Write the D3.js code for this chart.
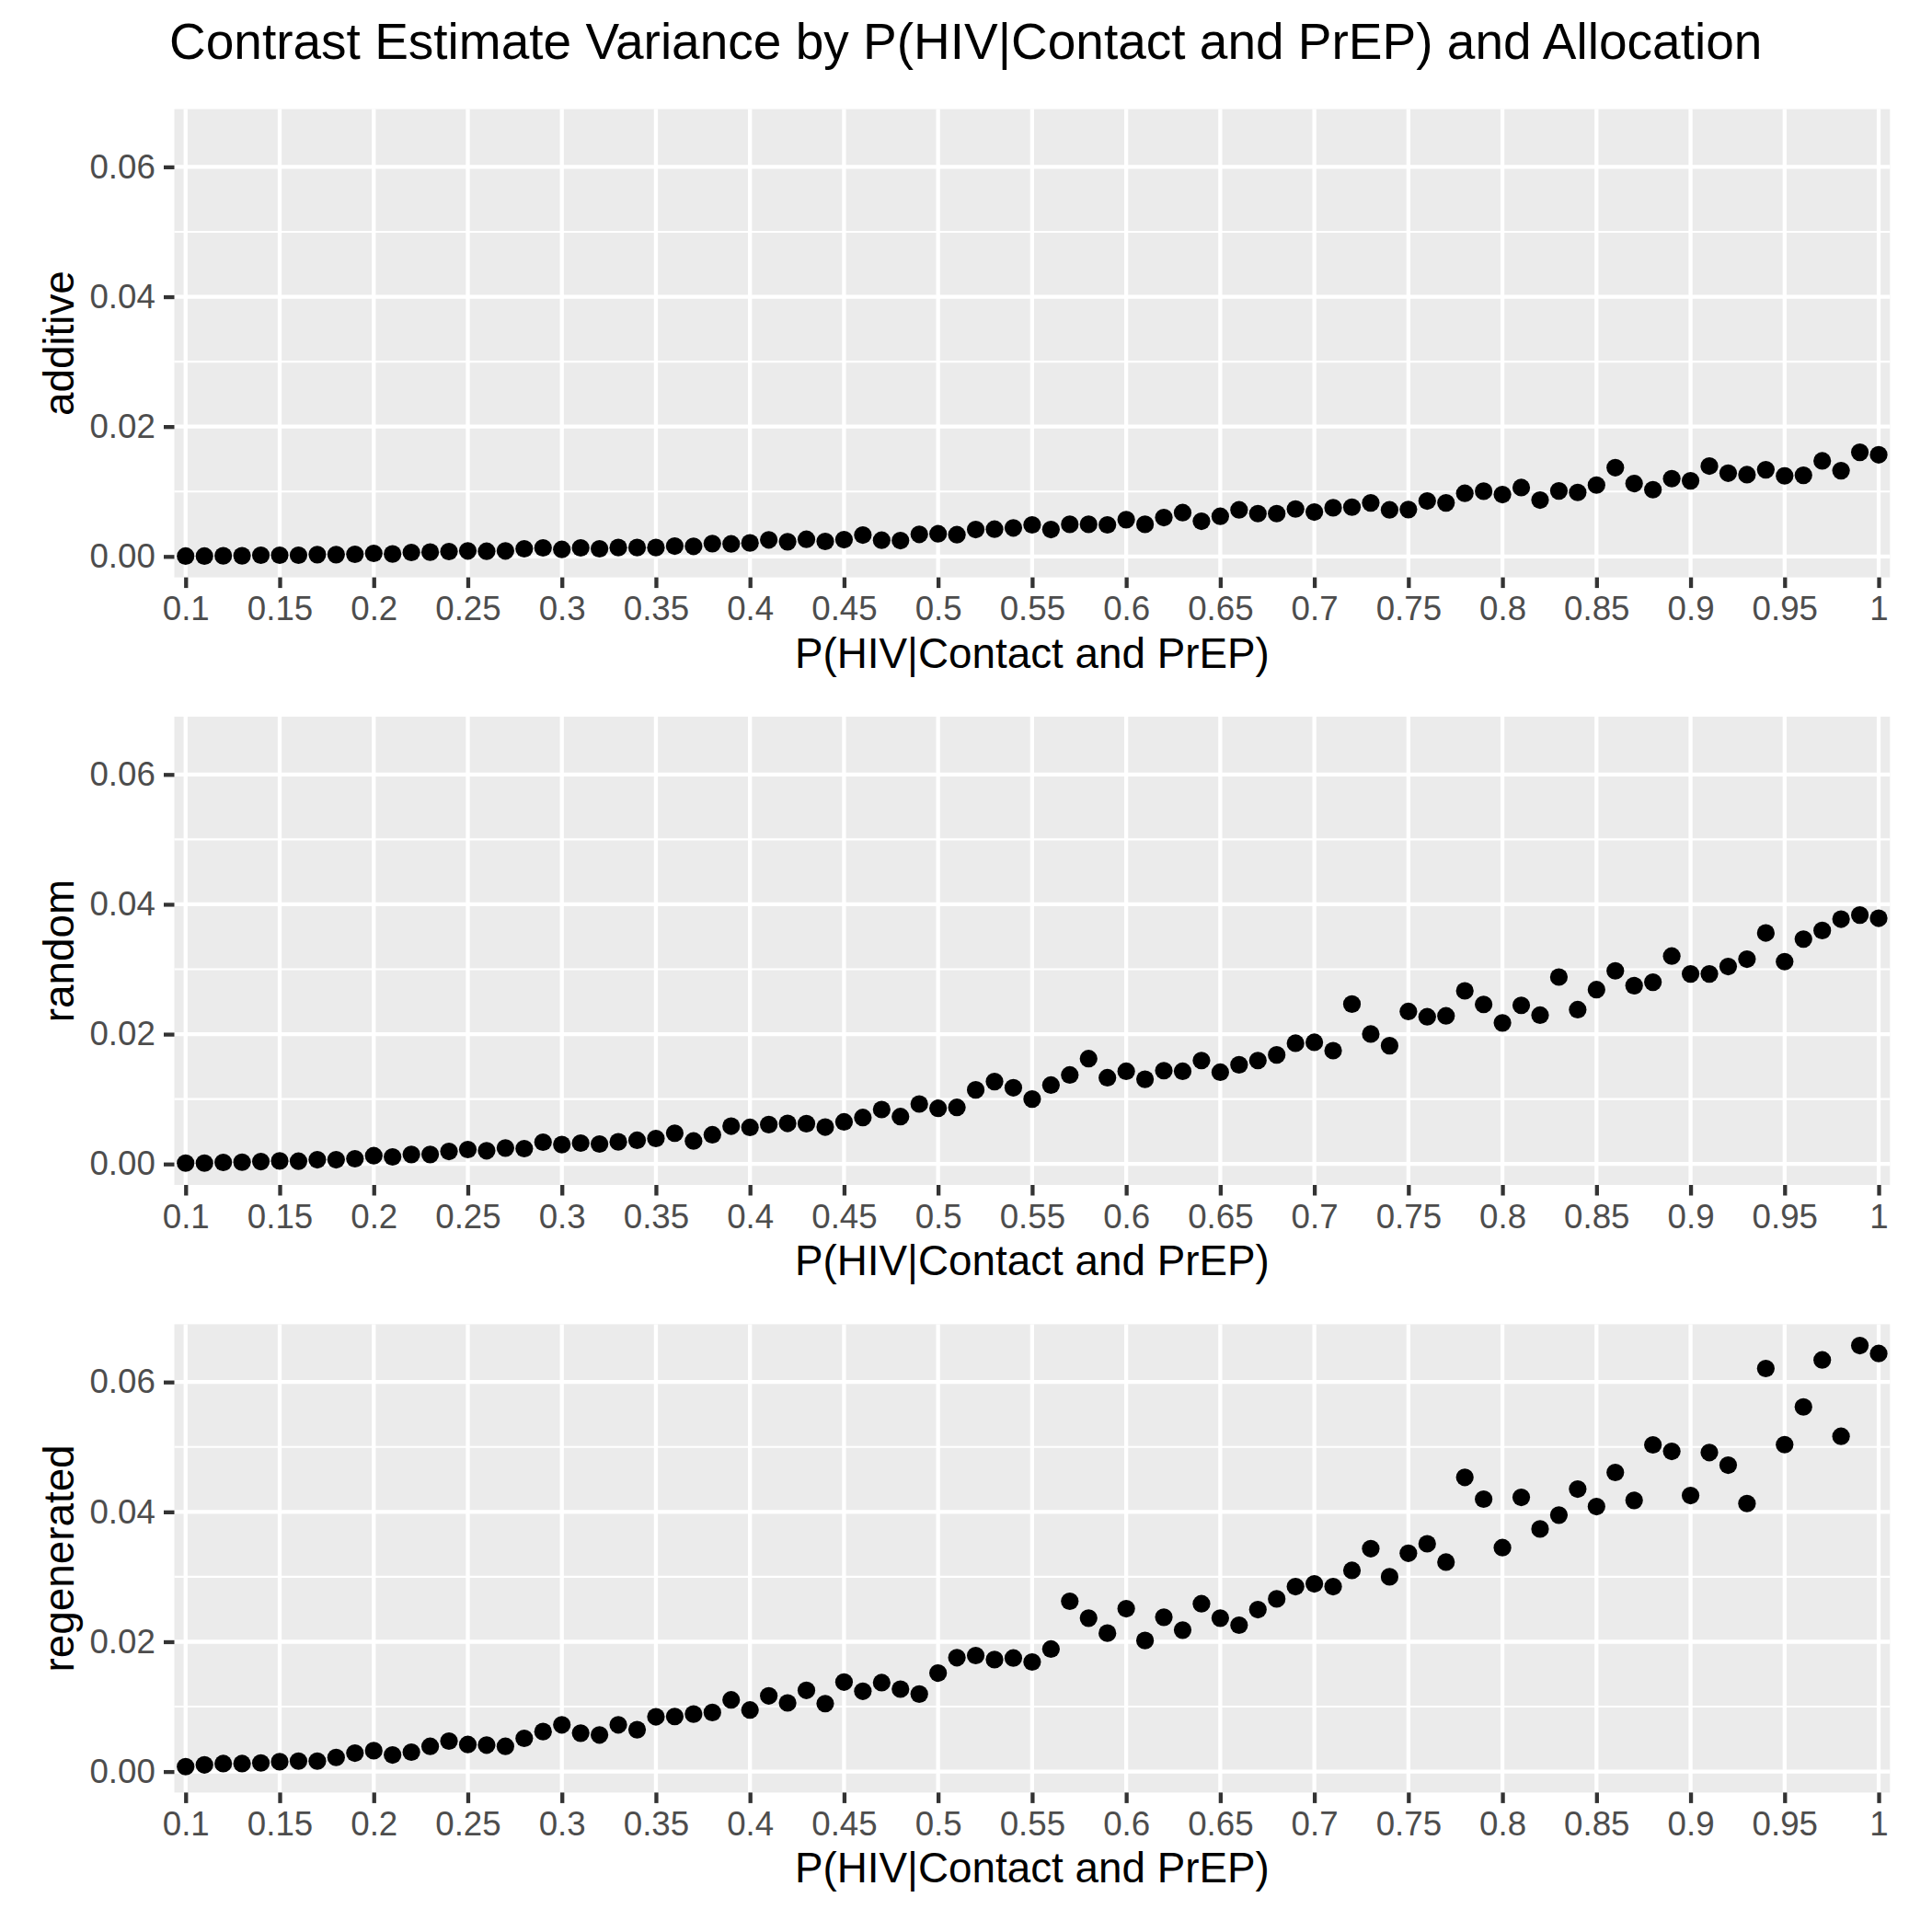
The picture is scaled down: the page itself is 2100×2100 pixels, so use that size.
<!DOCTYPE html>
<html>
<head>
<meta charset="utf-8">
<script src="https://cdn.jsdelivr.net/npm/d3@7/dist/d3.min.js"></script>
<style>
  html, body { margin: 0; padding: 0; background: #ffffff; }
  svg { display: block; }
  text { font-family: "Liberation Sans", Arial, Helvetica, sans-serif; }
</style>
</head>
<body>
<svg id="chart" width="2100" height="2100"></svg>
<script>
// ---------- data ----------
const categories = ["0.1","0.11","0.12","0.13","0.14","0.15","0.16","0.17","0.18","0.19",
  "0.2","0.21","0.22","0.23","0.24","0.25","0.26","0.27","0.28","0.29",
  "0.3","0.31","0.32","0.33","0.34","0.35","0.36","0.37","0.38","0.39",
  "0.4","0.41","0.42","0.43","0.44","0.45","0.46","0.47","0.48","0.49",
  "0.5","0.51","0.52","0.53","0.54","0.55","0.56","0.57","0.58","0.59",
  "0.6","0.61","0.62","0.63","0.64","0.65","0.66","0.67","0.68","0.69",
  "0.7","0.71","0.72","0.73","0.74","0.75","0.76","0.77","0.78","0.79",
  "0.8","0.81","0.82","0.83","0.84","0.85","0.86","0.87","0.88","0.89",
  "0.9","0.91","0.92","0.93","0.94","0.95","0.96","0.97","0.98","0.99","1"];

const xTickLabels = ["0.1","0.15","0.2","0.25","0.3","0.35","0.4","0.45","0.5","0.55",
  "0.6","0.65","0.7","0.75","0.8","0.85","0.9","0.95","1"];

const yMajorTicks = [0, 0.02, 0.04, 0.06];
const yMinorTicks = [0.01, 0.03, 0.05];

const panelNames = ["additive", "random", "regenerated"];

const additive = [0.00005,0.00005,0.0001,0.0001,0.00019,0.00019,0.00019,0.00028,0.00028,0.00033,
  0.00047,0.00038,0.00061,0.00066,0.00075,0.00085,0.0008,0.00085,0.00118,0.00132,
  0.00108,0.00132,0.00118,0.00137,0.00137,0.00137,0.0016,0.00156,0.00198,0.00193,
  0.00208,0.00255,0.00226,0.00264,0.00231,0.00259,0.0033,0.0025,0.00245,0.0034,
  0.00349,0.00335,0.00415,0.0042,0.00439,0.00486,0.00415,0.00495,0.00495,0.00486,
  0.00566,0.00495,0.00599,0.00675,0.00542,0.00618,0.00717,0.0066,0.0066,0.00731,
  0.00684,0.0075,0.00759,0.00825,0.00717,0.00722,0.00854,0.00825,0.00972,0.01005,
  0.00953,0.01061,0.00868,0.01009,0.00986,0.01099,0.01368,0.01123,0.01028,0.01198,
  0.01165,0.01392,0.01283,0.01259,0.01335,0.01241,0.0125,0.01472,0.01321,0.01604,0.01566];

const random = [0.00014,0.00014,0.00024,0.00028,0.00038,0.00047,0.00043,0.00066,0.00066,0.00081,
  0.00128,0.00109,0.00147,0.00147,0.00194,0.00223,0.00204,0.00246,0.00237,0.00336,
  0.00299,0.00322,0.00308,0.00341,0.00365,0.00393,0.00474,0.00355,0.0045,0.00583,
  0.00564,0.00607,0.00626,0.00621,0.00569,0.00649,0.00716,0.00839,0.0073,0.00924,
  0.00858,0.00872,0.01142,0.0127,0.01175,0.01,0.01215,0.01371,0.01623,0.01329,
  0.01428,0.01305,0.01438,0.01428,0.01594,0.01414,0.01528,0.01594,0.0168,0.0186,
  0.01874,0.01746,0.02463,0.02002,0.01822,0.02349,0.02268,0.02282,0.02667,0.02458,
  0.02173,0.02444,0.02292,0.0288,0.02377,0.02686,0.02975,0.02747,0.028,0.03203,
  0.02928,0.02928,0.03042,0.03155,0.03559,0.03117,0.03464,0.03597,0.03772,0.03834,0.03786];

const regenerated = [0.00076,0.00104,0.00123,0.00123,0.00133,0.00152,0.00161,0.00161,0.00218,0.00284,
  0.00322,0.00256,0.00299,0.00389,0.00469,0.00417,0.00408,0.00389,0.00512,0.00616,
  0.0072,0.00592,0.00564,0.0072,0.00645,0.00844,0.00848,0.00886,0.0091,0.01104,
  0.00948,0.01166,0.01057,0.01251,0.01047,0.01379,0.01237,0.0137,0.0127,0.01194,
  0.01517,0.01754,0.01787,0.01725,0.01749,0.01688,0.01887,0.02623,0.02363,0.02132,
  0.02509,0.02019,0.02377,0.02179,0.02585,0.02363,0.02255,0.02495,0.0266,0.02849,
  0.02892,0.02849,0.03099,0.03434,0.03,0.03363,0.03509,0.03226,0.04532,0.04196,
  0.03449,0.04224,0.03737,0.0395,0.04351,0.04082,0.04607,0.04177,0.05032,0.04932,
  0.04252,0.04914,0.0472,0.04129,0.06208,0.05036,0.05617,0.0634,0.05164,0.06562,0.06439];

const titleText = "Contrast Estimate Variance by P(HIV|Contact and PrEP) and Allocation";
const xTitle = "P(HIV|Contact and PrEP)";

// ---------- layout ----------
const series = [additive, random, regenerated];
const panelLeft = 189.5, panelRight = 2054.3;
const panelTops = [118.6, 779, 1439.4];
const panelH = 509;
const tickLen = 11.5, tickPad = 9.2;

const svg = d3.select("#chart");
svg.append("rect").attr("width", 2100).attr("height", 2100).attr("fill", "#ffffff");

const x = d3.scalePoint().domain(categories).range([panelLeft, panelRight]).padding(0.6);

const allVals = series.flat();
const ymin = d3.min(allVals), ymax = d3.max(allVals);
const span = ymax - ymin;
const yDomain = [ymin - 0.05 * span, ymax + 0.05 * span];

const tickFmt = d3.format(".2f");

// title
svg.append("text")
  .attr("x", 184).attr("y", 64)
  .attr("font-size", 55).attr("fill", "#000")
  .text(titleText);

panelNames.forEach((name, i) => {
  const top = panelTops[i];
  const y = d3.scaleLinear().domain(yDomain).range([top + panelH, top]);
  const g = svg.append("g");

  // panel background
  g.append("rect")
    .attr("x", panelLeft).attr("y", top)
    .attr("width", panelRight - panelLeft).attr("height", panelH)
    .attr("fill", "#EBEBEB");

  // minor gridlines
  g.selectAll(".minor").data(yMinorTicks).enter().append("line")
    .attr("x1", panelLeft).attr("x2", panelRight)
    .attr("y1", d => y(d)).attr("y2", d => y(d))
    .attr("stroke", "#ffffff").attr("stroke-width", 2.1);

  // major gridlines
  g.selectAll(".majorY").data(yMajorTicks).enter().append("line")
    .attr("x1", panelLeft).attr("x2", panelRight)
    .attr("y1", d => y(d)).attr("y2", d => y(d))
    .attr("stroke", "#ffffff").attr("stroke-width", 4.3);
  g.selectAll(".majorX").data(xTickLabels).enter().append("line")
    .attr("x1", d => x(d)).attr("x2", d => x(d))
    .attr("y1", top).attr("y2", top + panelH)
    .attr("stroke", "#ffffff").attr("stroke-width", 4.3);

  // points
  const vals = series[i];
  g.selectAll("circle").data(categories.map((c, k) => ({c: c, v: vals[k]}))).enter()
    .append("circle")
    .attr("cx", d => x(d.c)).attr("cy", d => y(d.v))
    .attr("r", 9.6).attr("fill", "#000");

  // y axis
  const yAxis = d3.axisLeft(y).tickValues(yMajorTicks).tickFormat(tickFmt)
    .tickSize(tickLen).tickPadding(tickPad);
  const ya = svg.append("g").attr("transform", `translate(${panelLeft},0)`).call(yAxis);
  ya.select(".domain").remove();
  ya.selectAll(".tick line").attr("stroke", "#333333").attr("stroke-width", 4.3);
  ya.selectAll(".tick text").attr("fill", "#4D4D4D").attr("font-size", 36.7)
    .attr("font-family", '"Liberation Sans", Arial, sans-serif');

  // x axis
  const xAxis = d3.axisBottom(x).tickValues(xTickLabels)
    .tickSize(tickLen).tickPadding(tickPad);
  const xa = svg.append("g").attr("transform", `translate(0,${top + panelH})`).call(xAxis);
  xa.select(".domain").remove();
  xa.selectAll(".tick line").attr("stroke", "#333333").attr("stroke-width", 4.3);
  xa.selectAll(".tick text").attr("fill", "#4D4D4D").attr("font-size", 36.7)
    .attr("font-family", '"Liberation Sans", Arial, sans-serif');

  // x title
  svg.append("text")
    .attr("x", (panelLeft + panelRight) / 2).attr("y", top + panelH + 98)
    .attr("text-anchor", "middle").attr("font-size", 45.8).attr("fill", "#000")
    .text(xTitle);

  // y title (facet name)
  const cy = top + panelH / 2;
  svg.append("text")
    .attr("transform", `translate(80,${cy}) rotate(-90)`)
    .attr("text-anchor", "middle").attr("font-size", 45.8).attr("fill", "#000")
    .text(name);
});
</script>
</body>
</html>
